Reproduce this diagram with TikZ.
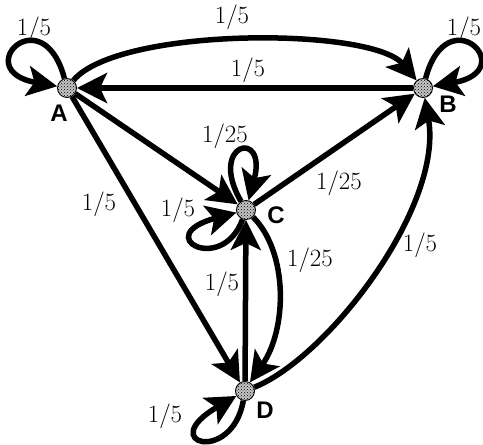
\documentclass[tikz,border=0pt]{standalone}
\usepackage{fontspec}
\newfontfamily\lblfont{Liberation Sans}
\usetikzlibrary{arrows.meta,patterns}
\begin{document}
\begin{tikzpicture}[x=1pt,y=1pt,
  vtx/.style={circle,draw,line width=0.9pt,minimum size=19pt,inner sep=0pt,preaction={fill=gray!45},pattern=crosshatch dots},
  edge/.style={line width=5.5pt,-{Stealth[length=30pt,width=30pt,inset=7pt]}},
  wt/.style={font=\fontsize{24}{28}\selectfont,inner sep=0pt},
  nm/.style={font=\lblfont\bfseries\fontsize{24}{28}\selectfont,inner sep=0pt}]
\useasboundingbox (0,0) rectangle (483,445);
% vertices
\node[vtx] (A) at (67,357) {};
\node[vtx] (B) at (423,357) {};
\node[vtx] (C) at (246,235) {};
\node[vtx] (D) at (245,54) {};
% vertex names
\node[nm] (lA) at (59,332) {A};
\node[nm] (lB) at (448,341) {B};
\node[nm] (lC) at (276,230) {C};
\node[nm] (lD) at (265,35) {D};
% straight edges
\draw[edge] (B) -- (A);
\draw[edge] (A) -- (C);
\draw[edge] (C) -- (B);
\draw[edge] (A) -- (D);
\draw[edge] (D) -- (C);
% curved edges
\draw[edge] (A.50) .. controls +(50:70) and +(130:70) .. (B.130);
\draw[edge] (C.-45) .. controls +(-45:50) and +(55:65) .. (D.60);
\draw[edge] (D.22) .. controls +(22:80) and +(-80:110) .. (B.-80);
% loops
\draw[edge] (A.105) .. controls +(105:85) and +(170:90) .. (A.170);
\draw[edge] (B.75) .. controls +(75:85) and +(10:90) .. (B.10);
\draw[edge] (C.120) .. controls +(120:68) and +(75:75) .. (C.75);
\draw[edge] (C.250) .. controls +(250:60) and +(195:90) .. (C.195);
\draw[edge] (D.260) .. controls +(260:65) and +(210:95) .. (D.210);
% weights
\node[wt] (w1) at (34,416) {$1/5$};
\node[wt] (w2) at (232,428) {$1/5$};
\node[wt] (w3) at (464,416) {$1/5$};
\node[wt] (w4) at (248,375) {$1/5$};
\node[wt] (w5) at (225,309) {$1/25$};
\node[wt] (w6) at (339,262) {$1/25$};
\node[wt] (w7) at (99,241) {$1/5$};
\node[wt] (w8) at (178,235) {$1/5$};
\node[wt] (w9) at (310,185) {$1/25$};
\node[wt] (w10) at (420,200) {$1/5$};
\node[wt] (w11) at (222,161) {$1/5$};
\node[wt] (w12) at (165,29) {$1/5$};
\end{tikzpicture}
\end{document}
